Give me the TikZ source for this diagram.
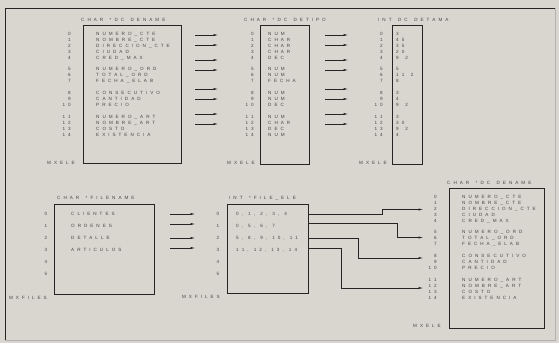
\documentclass[tikz,border=0pt]{standalone}
\usepackage{fontspec}
\setmainfont{Liberation Sans}
\usetikzlibrary{arrows.meta}
\definecolor{paper}{RGB}{217,213,207}
\definecolor{ink}{RGB}{38,36,36}
\definecolor{txt}{RGB}{72,70,70}
\newcommand\spgap{3pt}
\newcommand\spw{0.5pt}
\ExplSyntaxOn
\bool_new:N \l_spx_first_bool
\tl_new:N \l_spx_text_tl
\cs_new_protected:Npn \spx #1
 {
  \tl_set:No \l_spx_text_tl {#1}
  \bool_set_true:N \l_spx_first_bool
  \tl_map_inline:Nn \l_spx_text_tl
   {
    \bool_if:NF \l_spx_first_bool { \kern \spgap }
    \bool_set_false:N \l_spx_first_bool
    \tl_if_eq:nnTF {##1} {|} { \hspace{\spw} } { ##1 }
   }
 }
\ExplSyntaxOff
\tikzset{
  lbl/.style={inner sep=0pt, anchor=base west, font=\fontsize{4.6}{5}\selectfont, text=txt},
  idx/.style={lbl, anchor=base east},
  idxc/.style={lbl, anchor=base},
  boxs/.style={draw=ink, line width=1.1pt, inner sep=0pt},
  arr/.style={draw=ink, line width=0.5pt, -{Latex[length=4.5pt,width=2.2pt]}},
}
\newcommand\denbox[5]{%
  \begin{scope}[shift={(#2,#3)}]
    \node[boxs, anchor=north west, minimum width=#4pt, minimum height=#5pt] (#1box) at (83,25) {};
    \node[lbl] (#1title) at (81,21.7) {\spx{CHAR|*DC|DENAME}};
    \node[idx] (#1mx) at (75,164.7) {\spx{MXELE}};
    \foreach \oy/\t [count=\i from 0] in {9/NUMERO\_CTE,15/NOMBRE\_CTE,20.5/DIRECCION\_CTE,26.5/CIUDAD,32.5/CRED\_MAX,44/NUMERO\_ORD,50/TOTAL\_ORD,56/FECHA\_ELAB,67.5/CONSECUTIVO,73.5/CANTIDAD,79.5/PRECIO,91.5/NUMERO\_ART,97.5/NOMBRE\_ART,103.5/COSTO,109.5/EXISTENCIA}{
      \node[idx] (#1i\i) at (71,26.65+\oy) {\spx{\i}};
      \node[lbl] (#1n\i) at (96,26.65+\oy) {\spx{\t}};
    }
  \end{scope}}
\begin{document}
\begin{tikzpicture}[x=1pt,y=-1pt]
\useasboundingbox (0,0) rectangle (559,343);
\fill[paper] (0,0) rectangle (559,343);
% outer frame
\draw[ink, line width=0.8pt] (5,340) -- (5,8) -- (555,8);
\draw[ink!35, line width=0.6pt] (555,8) -- (555,340) -- (5,340);

% box 1
\denbox{a}{0}{0}{98}{138}

% box 2
\node[boxs, anchor=north west, minimum width=48.7pt, minimum height=139pt] (b2) at (260,25) {};
\node[lbl] (b2title) at (244,21.7) {\spx{CHAR|*DC|DETIPO}};
\node[idx] (b2mx) at (255,164.7) {\spx{MXELE}};
\foreach \oy/\t [count=\i from 0] in {9/NUM,15/CHAR,20.5/CHAR,26.5/CHAR,32.5/DEC,44/NUM,50/NUM,56/FECHA,67.5/NUM,73.5/NUM,79.5/DEC,91.5/NUM,97.5/CHAR,103.5/DEC,109.5/NUM}{
  \node[idx] (b2i\i) at (254,26.65+\oy) {\spx{\i}};
  \node[lbl] (b2n\i) at (268,26.65+\oy) {\spx{\t}};
}

% box 3
\node[boxs, anchor=north west, minimum width=30pt, minimum height=139pt] (b3) at (392,25) {};
\node[lbl] (b3title) at (378,21.7) {\spx{INT|DC|DETAMA}};
\node[idx] (b3mx) at (387,164.7) {\spx{MXELE}};
\foreach \oy/\t [count=\i from 0] in {9/3,15/45,20.5/35,26.5/20,32.5/9|2,44/5,50/11|2,56/8,67.5/3,73.5/4,79.5/9|2,91.5/3,97.5/30,103.5/9|2,109.5/4}{
  \node[idx] (b3i\i) at (383,26.65+\oy) {\spx{\i}};
  \node[lbl] (b3n\i) at (396,26.65+\oy) {\spx{\t}};
}

% arrows top
\foreach \y [count=\k] in {35,45,60,70,89,99,114,124}{
  \coordinate (p\k) at (195,\y);
  \coordinate (q\k) at (218,\y);
  \coordinate (r\k) at (325,\y);
  \coordinate (s\k) at (348,\y);
  \draw[arr] (p\k) -- (q\k);
  \draw[arr] (r\k) -- (s\k);
}

% box 4
\node[boxs, anchor=north west, minimum width=100pt, minimum height=90pt] (b4) at (54,204) {};
\node[lbl] (b4title) at (57,199.7) {\spx{CHAR|*FILENAME}};
\node[idx] (b4mx) at (47,299.6) {\spx{MXFILES}};
\foreach \t [count=\i from 0] in {CLIENTES,ORDENES,DETALLE,ARTICULOS,{},{}}{
  \node[idxc] (b4i\i) at (46,215.65+12*\i) {\spx{\i}};
  \node[lbl] (b4n\i) at (71,215.65+12*\i) {\spx{\t}};
}

% arrows bottom
\foreach \y [count=\k] in {214,224,238,248}{
  \coordinate (u\k) at (170,\y);
  \coordinate (v\k) at (195,\y);
  \draw[arr] (u\k) -- (v\k);
}

% box 5
\node[boxs, anchor=north west, minimum width=81pt, minimum height=89pt] (b5) at (227,204) {};
\node[lbl] (b5title) at (229,199.7) {\spx{INT|*FILE\_ELE}};
\node[idx] (b5mx) at (220,298.6) {\spx{MXFILES}};
\foreach \t [count=\i from 0] in {{0,|1,|2,|3,|4},{0,|5,|6,|7},{5,|8,|9,|10,|11},{11,|12,|13,|14},{},{}}{
  \node[idxc] (b5i\i) at (218,215.65+12*\i) {\spx{\i}};
  \node[lbl] (b5n\i) at (236,215.65+12*\i) {\renewcommand\spw{-0.8pt}\spx{\t}};
}

% box 6
\denbox{f}{366}{163}{95}{140}

% connectors box5 -> box6
\coordinate (y1) at (0,214);
\coordinate (y2) at (0,223);
\coordinate (y3) at (0,238);
\coordinate (y4) at (0,248);
\coordinate (t1) at (382,214);
\coordinate (t2) at (397,223);
\coordinate (t3) at (358,238);
\coordinate (t4) at (341,248);
\coordinate (e1) at (423,209.5);
\coordinate (e2) at (423,237.5);
\coordinate (e3) at (423,258);
\coordinate (e4) at (423,288);
\draw[arr] (b5.east |- y1) -- (t1) |- (e1);
\draw[arr] (b5.east |- y2) -- (t2) |- (e2);
\draw[arr] (b5.east |- y3) -- (t3) |- (e3);
\draw[arr] (b5.east |- y4) -- (t4) |- (e4);
\end{tikzpicture}
\end{document}
